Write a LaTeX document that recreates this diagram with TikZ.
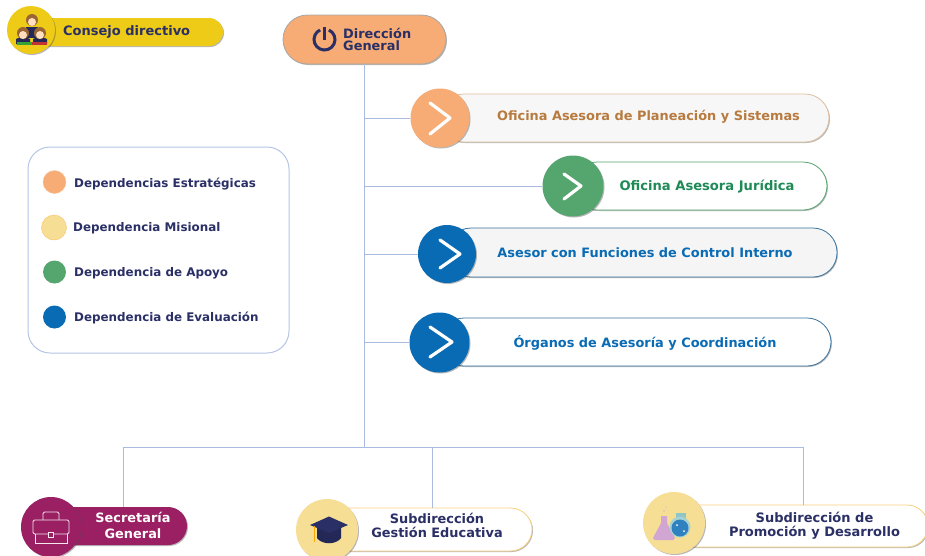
\documentclass[tikz,border=0pt]{standalone}
\usepackage{fontspec}
\setmainfont{DejaVu Sans}
\usetikzlibrary{shadows,shapes.misc}
\definecolor{navy}{HTML}{2A2F66}
\definecolor{orangeF}{HTML}{F6AC74}
\definecolor{yellowF}{HTML}{F7DE95}
\definecolor{greenF}{HTML}{55A56F}
\definecolor{blueF}{HTML}{0A6BB5}
\definecolor{goldF}{HTML}{EDCB17}
\definecolor{plumF}{HTML}{9B1F63}
\definecolor{linkC}{HTML}{A9BBE0}
\definecolor{brownT}{HTML}{B87B3F}
\definecolor{greenT}{HTML}{1E8A55}
\tikzset{
  x=1pt,y=-1pt,
  softshadow/.style={drop shadow={shadow xshift=1pt,shadow yshift=-1pt,opacity=.4,fill=black!70}},
  pill/.style={rectangle,rounded corners=24pt,inner sep=0pt,softshadow,line width=.8pt},
  disc/.style={circle,inner sep=0pt,softshadow},
  legdot/.style={circle,inner sep=0pt,minimum size=23pt},
  link/.style={draw=linkC,line width=1pt},
  chev/.style={draw=white,line width=3.2pt,line cap=round,line join=round},
  lab/.style={inner sep=0pt,font=\bfseries\fontsize{12.9}{13}\selectfont,align=center},
  leglab/.style={inner sep=0pt,anchor=west,text=navy,font=\bfseries\fontsize{11.9}{13}\selectfont},
}
\begin{document}
\begin{tikzpicture}
\useasboundingbox (0,0) rectangle (925,555);
% legend
\node[draw=linkC!85,line width=1pt,rounded corners=22pt,minimum width=261pt,minimum height=206pt,inner sep=0pt] (legend) at (158.5,250) {};
\node[legdot,fill=orangeF,draw=orangeF!70!white] (l1) at (54.5,182) {};
\node[legdot,fill=yellowF,draw=yellowF!70!orange,minimum size=25pt] (l2) at (54,227.5) {};
\node[legdot,fill=greenF] (l3) at (54.5,272) {};
\node[legdot,fill=blueF] (l4) at (54.5,317) {};
\node[leglab] (lt1) at (74,184) {Dependencias Estratégicas};
\node[leglab] (lt2) at (73,228) {Dependencia Misional};
\node[leglab] (lt3) at (74,273) {Dependencia de Apoyo};
\node[leglab] (lt4) at (74,318) {Dependencia de Evaluación};
% consejo
\node[pill,rounded corners=14pt,fill=goldF,minimum width=192pt,minimum height=28pt] (cp) at (127,32) {};
\node[disc,fill=goldF,minimum size=48pt] (cc) at (31,30) {};
\node[lab,text=navy,anchor=west,font=\bfseries\fontsize{13}{13}\selectfont] (ct) at (63,32) {Consejo directivo};
% people icon
\fill[navy!85!black] (26,27) rectangle (38,38);
\fill[brown!80!black] (32,20) circle (6);
\fill[orange!25!white] (32,22) circle (4);
\foreach \px in {23,40}{
  \fill[navy!85!black] (\px-7,44) -- (\px-7,39) -- (\px,36) -- (\px+7,39) -- (\px+7,44) -- cycle;
  \fill[brown!80!black] (\px,33) circle (6);
  \fill[orange!25!white] (\px,35) circle (4);
}
\fill[green!55!black!80] (17,42) rectangle (32,45);
\fill[red!70!black!80] (32,42) rectangle (47,45);
% direction
\node[pill,rounded corners=24.5pt,fill=orangeF,draw=gray!70,minimum width=163pt,minimum height=49pt] (dir) at (364.5,39.5) {};
\node[lab,text=navy,align=left,anchor=west,font=\bfseries\fontsize{12.9}{12}\selectfont] (dirt) at (343,39) {Dirección\\General};
\begin{scope}[shift={(324.5,39.5)},x=1pt,y=1pt]
  \draw[navy,line width=3pt] (65:10.5) arc[start angle=65,end angle=-245,radius=10.5];
  \draw[navy,line width=3pt] (0,12.5) -- (0,0);
\end{scope}
% advisory pills
\node[pill,fill=black!3,draw=brown!50!white,minimum width=389pt,minimum height=48pt] (p1) at (634.5,118) {};
\node[disc,fill=orangeF,minimum size=59pt] (c1) at (440,118) {};
\node[lab,text=brownT] (t1) at (648.5,117) {Oficina Asesora de Planeación y Sistemas};
\draw[chev] (430,103) -- (450,118) -- (430,134);

\node[pill,fill=white,draw=greenF,minimum width=254pt,minimum height=48pt] (p2) at (700,186) {};
\node[disc,fill=greenF,minimum size=61pt] (c2) at (573,186) {};
\node[lab,text=greenT,font=\bfseries\fontsize{13.1}{13}\selectfont] (t2) at (707,187) {Oficina Asesora Jurídica};
\draw[chev] (564,174) -- (581,186) -- (564,199);

\node[pill,fill=black!4,draw=blueF!60!gray,minimum width=390pt,minimum height=49pt] (p3) at (642,252.5) {};
\node[disc,fill=blueF,minimum size=58pt] (c3) at (447,254) {};
\node[lab,text=blueF] (t3) at (645,253) {Asesor con Funciones de Control Interno};
\draw[chev] (440,240) -- (460,254) -- (440,268);

\node[pill,fill=white,draw=blueF!60!gray,minimum width=391pt,minimum height=48pt] (p4) at (635.5,342) {};
\node[disc,fill=blueF,minimum size=60pt] (c4) at (439.5,342.5) {};
\node[lab,text=blueF] (t4) at (645,343) {Órganos de Asesoría y Coordinación};
\draw[chev] (430,327) -- (452,342) -- (430,357);

% bottom pills
\node[pill,rounded corners=19pt,fill=plumF,minimum width=136pt,minimum height=38pt] (sp) at (119,526) {};
\node[disc,fill=plumF,minimum size=60pt] (sc) at (51,527) {};
\node[lab,text=white,font=\bfseries\fontsize{12.9}{16.5}\selectfont] (st) at (133,525.5) {Secretaría\\General};
\draw[white!90!plumF,line width=.9pt,rounded corners=1.5pt] (33,520) rectangle (69,534);
\draw[white!90!plumF,line width=.9pt] (35,534) -- (35,543) -- (67,543) -- (67,534);
\draw[white!90!plumF,line width=.9pt,rounded corners=1.5pt] (43,520) -- (43,512) -- (59,512) -- (59,520);
\draw[white!90!plumF,line width=.9pt,fill=plumF] (48.5,532) rectangle (53.5,537);

\node[pill,rounded corners=21.5pt,fill=white,draw=yellowF!85!orange,minimum width=205pt,minimum height=43pt] (gp) at (429.5,529.5) {};
\node[disc,fill=yellowF,minimum size=62pt] (gc) at (327,530) {};
\node[lab,text=navy,font=\bfseries\fontsize{12.9}{13.5}\selectfont] (gt) at (437,525.5) {Subdirección\\Gestión Educativa};
\fill[navy!85!black] (317,525) -- (317,538) .. controls (322,545) and (336,545) .. (341,538) -- (341,525) -- cycle;
\fill[navy] (329,516.5) -- (348,525) -- (329,533) -- (310,525) -- cycle;
\draw[orange!70!yellow,line width=1.2pt] (314.5,526) -- (314.5,542);

\node[pill,rounded corners=21pt,fill=white,draw=yellowF!85!orange,minimum width=254pt,minimum height=42pt] (pp) at (801,526) {};
\node[disc,fill=yellowF,minimum size=62pt] (pc) at (674,523) {};
\node[lab,text=navy,font=\bfseries\fontsize{13}{13.5}\selectfont] (pt) at (814.5,525.5) {Subdirección de\\Promoción y Desarrollo};
% flasks
\fill[violet!35!white] (661,516) -- (667,516) -- (667,523) -- (675,538) -- (673,540) -- (655,540) -- (653,538) -- (661,523) -- cycle;
\fill[teal!45!white] (676,513) rectangle (686,520);
\fill[teal!35!white] (680,527) circle (10.5);
\fill[blueF!85!white] (680,528) circle (8.5);
\fill[white] (677,525) circle (1) (684,531) circle (1);
\fill[violet!30!white] (664,511) circle (.8) (666,507) circle (.7);
% connectors
\coordinate (bus) at (364.5,447);
\coordinate (sa) at (123,507);
\coordinate (ga) at (432,508);
\coordinate (pa) at (803,505);
\draw[link] (dir.south) -- (bus);
\draw[link] (c1.west) -| (dir.south);
\draw[link] (c2.west) -| (dir.south);
\draw[link] (c3.west) -| (dir.south);
\draw[link] (c4.west) -| (dir.south);
\draw[link] (bus) -| (sa);
\draw[link] (bus) -| (ga);
\draw[link] (bus) -| (pa);
\end{tikzpicture}
\end{document}
